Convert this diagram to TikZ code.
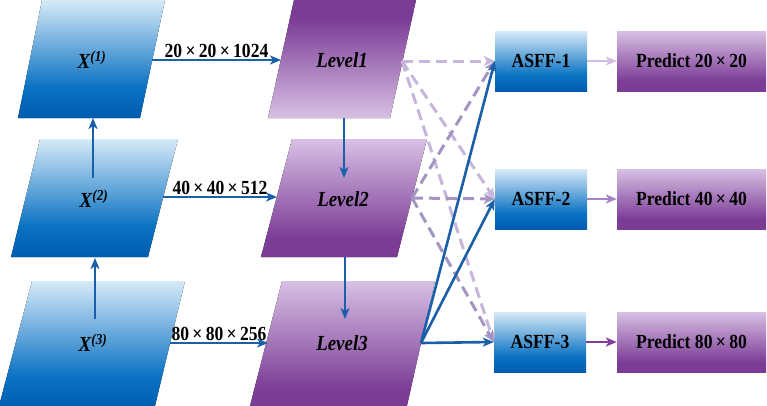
\documentclass[tikz,border=0pt]{standalone}
\usepackage{fontspec}
\setmainfont{Liberation Serif}
\newfontfamily\tallserif[FakeStretch=0.88]{Liberation Serif}
\usetikzlibrary{arrows.meta}
\definecolor{arrblue}{HTML}{1B5FA8}
\definecolor{bluelight}{HTML}{D6EAF8}
\definecolor{bluemid}{HTML}{0A72C2}
\definecolor{bluedark}{HTML}{005CB0}
\definecolor{purpdark}{HTML}{7B3C96}
\definecolor{purplight}{HTML}{D8C0E4}
\definecolor{dashA}{HTML}{C6B6DC}
\definecolor{dashB}{HTML}{A494C2}
\definecolor{outA}{HTML}{D2BEE2}
\definecolor{outB}{HTML}{A484C4}
\definecolor{outC}{HTML}{7E3E9C}
\pgfdeclareverticalshading{bluesh}{100bp}{color(0bp)=(bluedark); color(25bp)=(bluedark); color(38bp)=(bluemid); color(75bp)=(bluelight); color(100bp)=(bluelight)}
\pgfdeclareverticalshading{purpup}{100bp}{color(0bp)=(purpdark); color(25bp)=(purpdark); color(33bp)=(purpdark); color(75bp)=(purplight); color(100bp)=(purplight)}
\pgfdeclareverticalshading{purpdown}{100bp}{color(0bp)=(purplight); color(25bp)=(purplight); color(67bp)=(purpdark); color(75bp)=(purpdark); color(100bp)=(purpdark)}
\tikzset{
  lbl/.style={font=\tallserif\fontsize{21.5}{25}\selectfont\bfseries\itshape, text=black},
  dim/.style={font=\tallserif\fontsize{20}{23}\selectfont\bfseries, text=black, inner sep=1pt},
  boxtxt/.style={font=\tallserif\fontsize{20}{23}\selectfont\bfseries, text=black},
  asff/.style={rectangle, shading=bluesh, minimum width=92pt, minimum height=60pt, inner sep=0pt, boxtxt},
  pred/.style={rectangle, shading=purpup, minimum width=149pt, minimum height=60pt, inner sep=0pt, boxtxt},
  barrow/.style={draw=arrblue, line width=2.6pt, -{Stealth[length=11pt,width=9pt,inset=3pt]}},
  darrowA/.style={draw=dashA, line width=3pt, dash pattern=on 11pt off 6pt, -{Stealth[length=11pt,width=10pt,inset=3pt]}},
  darrowB/.style={draw=dashB, line width=3pt, dash pattern=on 11pt off 6pt, -{Stealth[length=11pt,width=10pt,inset=3pt]}},
}
\begin{document}
\begin{tikzpicture}[x=1pt,y=-1pt]
\useasboundingbox (0,0) rectangle (767,405);
% input parallelograms
\fill[shading=bluesh] (42,0) -- (165,0) -- (140,118) -- (18,118) -- cycle;
\fill[shading=bluesh] (40,139) -- (178,139) -- (148,257) -- (11,257) -- cycle;
\fill[shading=bluesh] (32,281) -- (185,281) -- (154,410) -- (-2,410) -- cycle;
% level parallelograms
\fill[shading=purpdown] (294,0) -- (416,0) -- (390,118) -- (268,118) -- cycle;
\fill[shading=purpup] (292,139) -- (427,139) -- (397,257) -- (261,257) -- cycle;
\fill[shading=purpup] (282,281) -- (435,281) -- (406,410) -- (249,410) -- cycle;
% texts
\node[lbl] (X1) at (92,60) {X\textsuperscript{(1)}};
\node[lbl] (X2) at (94,199) {X\textsuperscript{(2)}};
\node[lbl] (X3) at (93,343) {X\textsuperscript{(3)}};
\node[lbl] (L1) at (342,60) {Level1};
\node[lbl] (L2) at (343,199) {Level2};
\node[lbl] (L3) at (342,343) {Level3};
% ASFF and predict
\node[asff] (A1) at (541,61) {ASFF-1};
\node[asff] (A2) at (541,199) {ASFF-2};
\node[asff] (A3) at (540,342) {ASFF-3};
\node[pred] (P1) at (691.5,61) {Predict 20\,×\,20};
\node[pred] (P2) at (691.5,199) {Predict 40\,×\,40};
\node[pred] (P3) at (691.5,342) {Predict 80\,×\,80};
% coordinates
\coordinate (x1out) at (152,60);  \coordinate (l1in) at (281,60);
\coordinate (x2out) at (163,197); \coordinate (l2in) at (277,197);
\coordinate (x3out) at (170,343); \coordinate (l3in) at (268,343);
\coordinate (x1bot) at (93,118);  \coordinate (x2up) at (93,178);
\coordinate (x2bot) at (95,258);  \coordinate (x3up) at (95,319);
\coordinate (l1bot) at (344,118); \coordinate (l2top) at (344,178);
\coordinate (l2bot) at (345,257); \coordinate (l3top) at (345,319);
\coordinate (l1out) at (402,61);
\coordinate (l2out) at (412,198);
\coordinate (l3out) at (421,343);
% horizontal input arrows
\draw[barrow] (x1out) -- node[dim, above, pos=0.5] {20\,×\,20\,×\,1024} (l1in);
\draw[barrow] (x2out) -- node[dim, above, pos=0.5] {40\,×\,40\,×\,512} (l2in);
\draw[barrow] (x3out) -- node[dim, above, pos=0.5] {80\,×\,80\,×\,256} (l3in);
% vertical arrows
\draw[barrow] (x2up) -- (x1bot);
\draw[barrow] (x3up) -- (x2bot);
\draw[barrow] (l1bot) -- (l2top);
\draw[barrow] (l2bot) -- (l3top);
% dashed arrows
\draw[darrowA] (l1out) -- (A1.west);
\draw[darrowA] (l1out) -- (A2.west);
\draw[darrowA] (l1out) -- (A3.west);
\draw[darrowB] (l2out) -- (A1.west);
\draw[darrowB] (l2out) -- (A2.west);
\draw[darrowB] (l2out) -- (A3.west);
% level3 solid arrows
\draw[barrow] (l3out) -- (A1.west);
\draw[barrow] (l3out) -- (A2.west);
\draw[barrow] (l3out) -- (A3.west);
% outputs
\draw[line width=2.6pt, draw=outA, -{Stealth[length=11pt,width=9pt,inset=3pt]}] (A1.east) -- (P1.west);
\draw[line width=2.6pt, draw=outB, -{Stealth[length=11pt,width=9pt,inset=3pt]}] (A2.east) -- (P2.west);
\draw[line width=2.6pt, draw=outC, -{Stealth[length=11pt,width=9pt,inset=3pt]}] (A3.east) -- (P3.west);
\end{tikzpicture}
\end{document}
